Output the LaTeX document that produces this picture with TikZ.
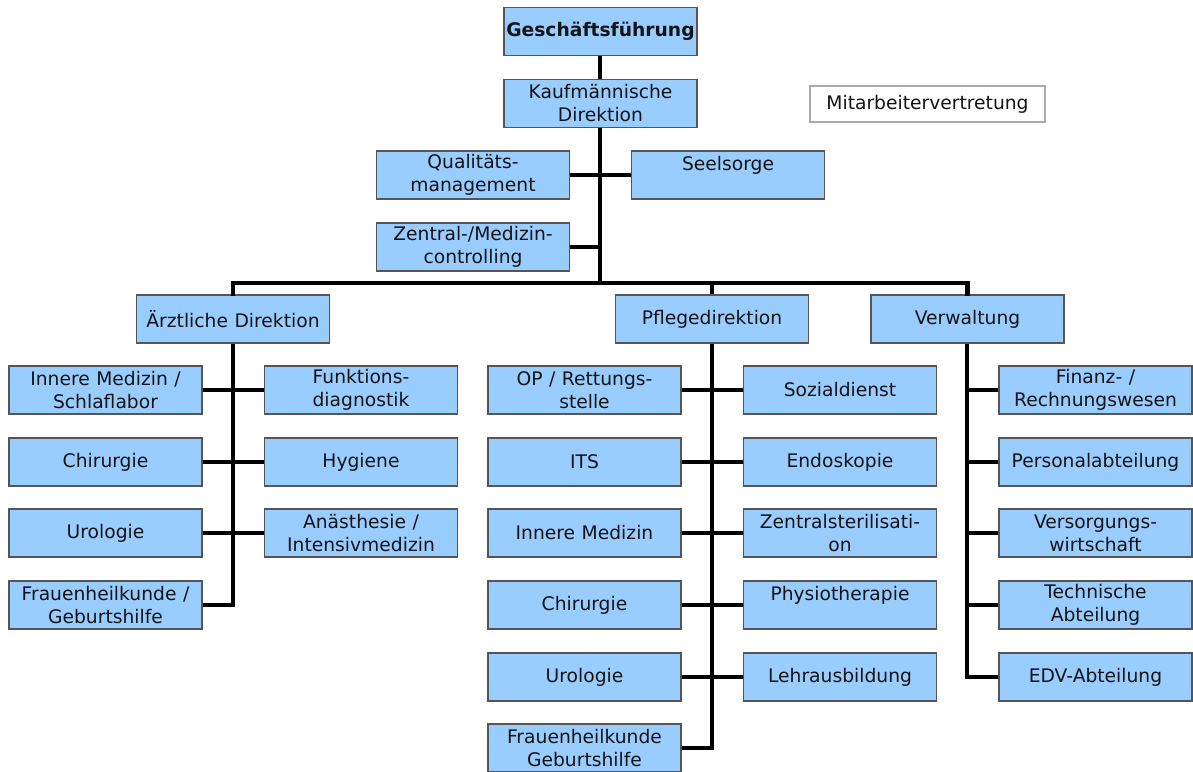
\documentclass[tikz,border=0pt]{standalone}
\usepackage{fontspec}
\setmainfont{DejaVu Sans}[WordSpace=1.1]
\definecolor{boxblue}{RGB}{153,204,255}
\definecolor{boxedge}{RGB}{85,85,85}
\definecolor{txt}{RGB}{20,20,20}
\definecolor{mvedge}{RGB}{170,170,170}
\tikzset{
  orgbox/.style={draw=boxedge, line width=1.3pt, fill=boxblue, minimum width=193pt, minimum height=48pt,
    inner sep=1pt, align=center, text=txt, font=\fontsize{18.7}{23}\selectfont},
  wbox/.style={draw=mvedge, line width=1.2pt, fill=white, minimum width=235pt, minimum height=36pt,
    inner sep=1pt, align=center, text=txt, font=\fontsize{18.7}{23}\selectfont},
  link/.style={draw=black, line width=4.2pt}
}
\begin{document}
\begin{tikzpicture}[x=1pt,y=-1pt]
\useasboundingbox[fill=white] (0,0) rectangle (1193,771);
\begin{scope}
\clip (0,0) rectangle (1193,771);
% top
\node[orgbox] (gf) at (600.5,31.5) {\textbf{Geschäftsführung}};
\node[orgbox] (kd) at (600.5,103.5) {Kaufmännische\\Direktion};
\node[wbox] (mv) at (927.5,104) {Mitarbeitervertretung};
\node[orgbox] (qm) at (473,175) {Qualitäts-\\management};
\node[orgbox] (ss) at (728,175) {Seelsorge\\\mbox{}};
\node[orgbox] (zc) at (473,247) {Zentral-/Medizin-\\controlling};
\coordinate (bar) at (600,283);
% directions
\node[orgbox] (ad) at (233,319) {Ärztliche Direktion};
\node[orgbox] (pd) at (712,319) {Pflegedirektion};
\node[orgbox] (vw) at (967.5,319) {Verwaltung};
% aerztliche
\node[orgbox] (a1) at (105.5,390) {Innere Medizin /\\Schlaflabor};
\node[orgbox] (a2) at (361,390) {Funktions-\\diagnostik};
\node[orgbox] (a3) at (105.5,462) {Chirurgie};
\node[orgbox] (a4) at (361,462) {Hygiene};
\node[orgbox] (a5) at (105.5,533) {Urologie};
\node[orgbox] (a6) at (361,533) {Anästhesie /\\Intensivmedizin};
\node[orgbox] (a7) at (105.5,605) {Frauenheilkunde /\\Geburtshilfe};
% pflege
\node[orgbox] (p1) at (584.5,390) {OP / Rettungs-\\stelle};
\node[orgbox] (p2) at (840,390) {Sozialdienst};
\node[orgbox] (p3) at (584.5,462) {ITS};
\node[orgbox] (p4) at (840,462) {Endoskopie};
\node[orgbox] (p5) at (584.5,533) {Innere Medizin};
\node[orgbox] (p6) at (840,533) {Zentralsterilisati-\\on};
\node[orgbox] (p7) at (584.5,605) {Chirurgie};
\node[orgbox] (p8) at (840,605) {Physiotherapie\\\mbox{}};
\node[orgbox] (p9) at (584.5,677) {Urologie};
\node[orgbox] (p10) at (840,677) {Lehrausbildung};
\node[orgbox] (p11) at (584.5,748) {Frauenheilkunde\\Geburtshilfe};
% verwaltung
\node[orgbox] (v1) at (1095.5,390) {Finanz- /\\Rechnungswesen};
\node[orgbox] (v2) at (1095.5,462) {Personalabteilung};
\node[orgbox] (v3) at (1095.5,533) {Versorgungs-\\wirtschaft};
\node[orgbox] (v4) at (1095.5,605) {Technische\\Abteilung};
\node[orgbox] (v5) at (1095.5,677) {EDV-Abteilung};
% connectors top
\draw[link] (gf.south -| bar) -- (kd.north -| bar);
\draw[link] (kd.south -| bar) -- (bar);
\draw[link] (qm.east) -- (ss.west);
\draw[link] (zc.east) -- (zc.east -| bar);
\draw[link, line cap=rect] (ad.north) -- (ad.north |- bar) -- (vw.north |- bar) -- (vw.north);
\draw[link] (pd.north |- bar) -- (pd.north);
% aerztliche
\draw[link] (ad.south) |- (a7.east);
\draw[link] (a1.east) -- (a2.west);
\draw[link] (a3.east) -- (a4.west);
\draw[link] (a5.east) -- (a6.west);
% pflege
\draw[link] (pd.south) |- (p11.east);
\draw[link] (p1.east) -- (p2.west);
\draw[link] (p3.east) -- (p4.west);
\draw[link] (p5.east) -- (p6.west);
\draw[link] (p7.east) -- (p8.west);
\draw[link] (p9.east) -- (p10.west);
% verwaltung
\draw[link] (vw.south -| 967,0) |- (v5.west);
\draw[link] (v1.west) -- (v1.west -| 967,0);
\draw[link] (v2.west) -- (v2.west -| 967,0);
\draw[link] (v3.west) -- (v3.west -| 967,0);
\draw[link] (v4.west) -- (v4.west -| 967,0);
\end{scope}
\end{tikzpicture}
\end{document}
